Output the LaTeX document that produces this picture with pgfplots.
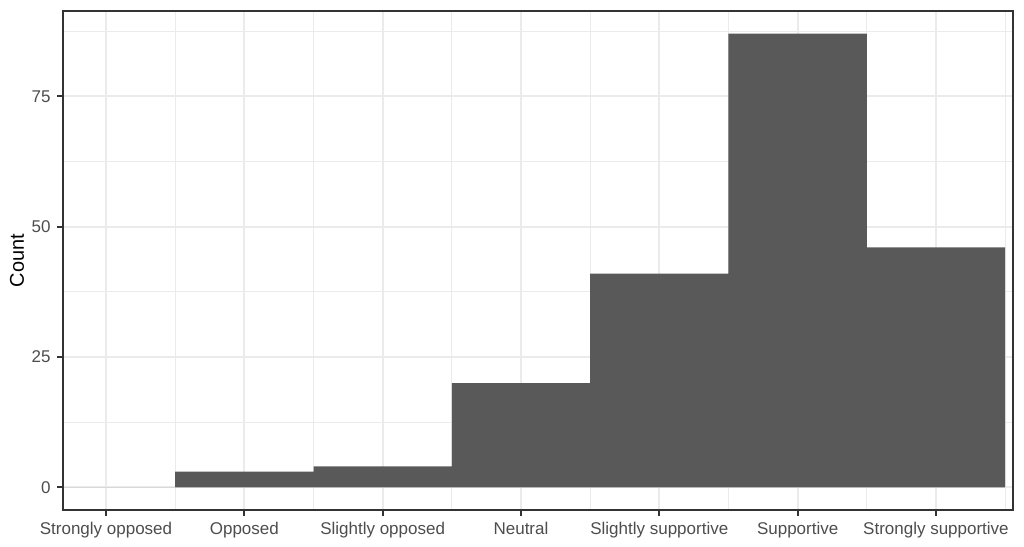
\documentclass[border=0pt]{standalone}
\usepackage{fontspec}
\setmainfont{Liberation Sans}
\usepackage{pgfplots}
\pgfplotsset{compat=1.18}
\definecolor{barfill}{HTML}{595959}
\definecolor{gridgrey}{HTML}{EBEBEB}
\definecolor{frame}{HTML}{333333}
\definecolor{ticktext}{HTML}{4D4D4D}
\begin{document}
\begin{tikzpicture}
\begin{axis}[
    scale only axis,
    width=475bp, height=249.5bp,
    xmin=0.689, xmax=7.557,
    ymin=-4.35, ymax=91.35,
    axis line style={frame, line width=1bp},
    tick align=outside,
    xtick pos=bottom, ytick pos=left,
    major tick length=2.75bp,
    minor tick length=0pt,
    tick style={frame, line width=1bp},
    xtick={1,2,3,4,5,6,7},
    xticklabels={Strongly opposed, Opposed, Slightly opposed, Neutral,
                 Slightly supportive, Supportive, Strongly supportive},
    minor xtick={1.5,2.5,3.5,4.5,5.5,6.5,7.5},
    ytick={0,25,50,75},
    minor ytick={12.5,37.5,62.5,87.5},
    grid=both,
    major grid style={gridgrey, line width=1bp},
    minor grid style={gridgrey, line width=0.5bp},
    ticklabel style={font=\fontsize{8.5bp}{10bp}\selectfont, text=ticktext},
    /pgf/number format/assume math mode=true,
    ylabel={Count},
    ylabel style={font=\fontsize{10bp}{12bp}\selectfont, black},
    every axis y label/.style={at={(rel axis cs:0,0.5)}, xshift=-23bp,
                               rotate=90, anchor=center},
    ybar, bar width=1, bar shift=0pt,
]
\addplot[draw=none, fill=barfill] coordinates {
    (1,0) (2,3) (3,4) (4,20) (5,41) (6,87) (7,46)
};
\end{axis}
\pgfresetboundingbox
\path ([shift={(-31.5bp,-18bp)}]current axis.south west)
      rectangle ([shift={(5.5bp,5.5bp)}]current axis.north east);
\end{tikzpicture}
\end{document}
